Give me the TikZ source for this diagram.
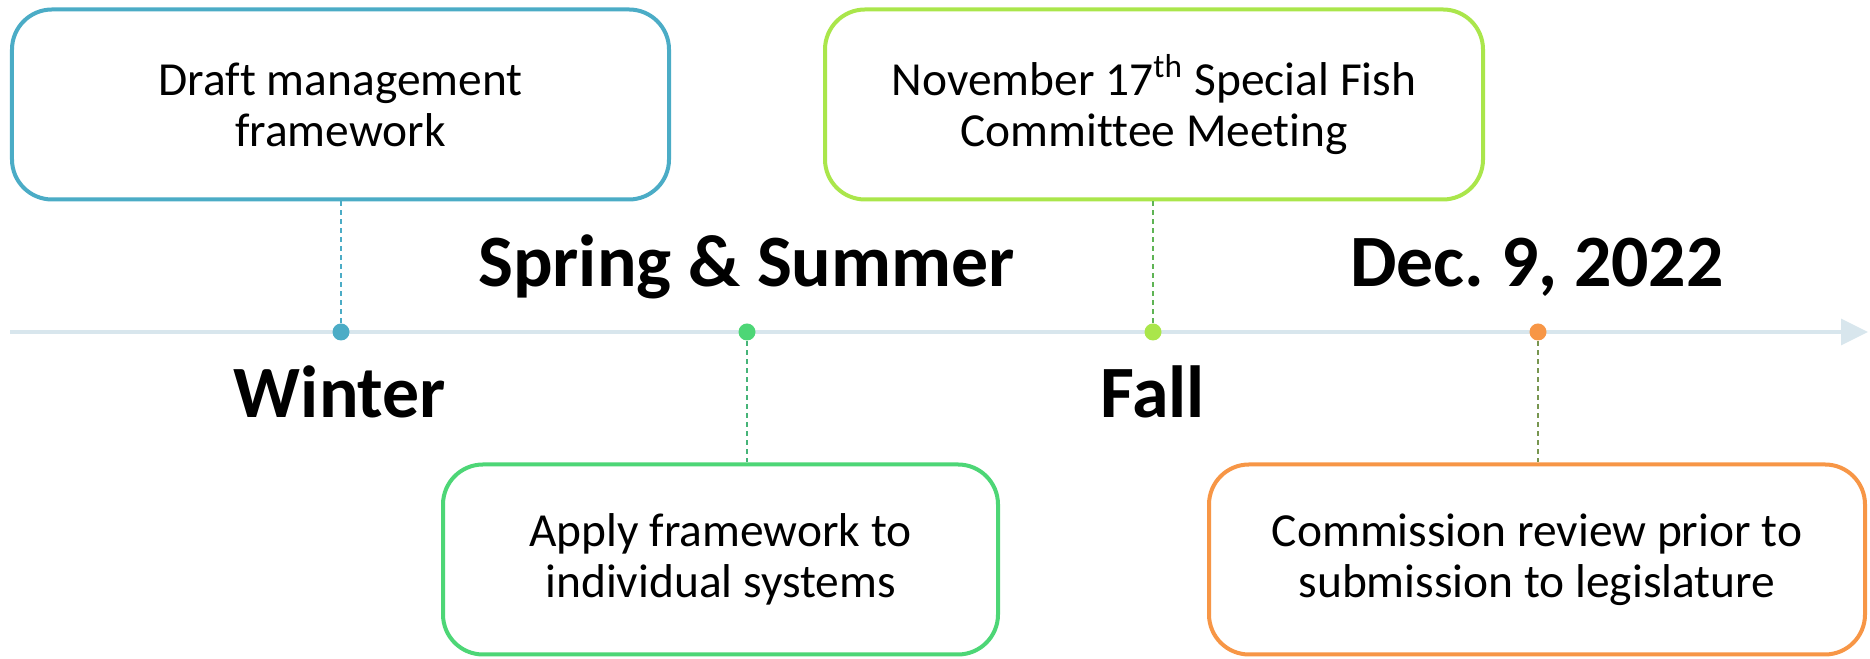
\documentclass[tikz,border=0pt]{standalone}
\usepackage{fontspec}
\setmainfont{Carlito}[Ligatures=NoCommon]
\usepackage{xcolor}
\usetikzlibrary{arrows.meta, positioning}

\definecolor{cBlue}{RGB}{75,172,198}
\definecolor{cLime}{RGB}{170,230,75}
\definecolor{cGreen}{RGB}{77,214,118}
\definecolor{cOrange}{RGB}{247,150,70}
\definecolor{cLine}{RGB}{216,230,237}
\definecolor{cOlive}{RGB}{120,150,80}
\definecolor{cDkLime}{RGB}{95,180,85}
\definecolor{cDkGreen}{RGB}{70,180,120}

\begin{document}
\begin{tikzpicture}[
  evbox/.style={draw, line width=0.04cm, rounded corners=0.4cm, fill=white,
    minimum height=1.9cm, align=center, font=\fontsize{13.5}{14.5}\selectfont},
  season/.style={anchor=base, font=\fontsize{21}{25}\selectfont\bfseries},
  dot/.style={circle, inner sep=0pt, minimum size=0.17cm},
  link/.style={line width=0.5pt, dash pattern=on 0.05cm off 0.04cm}
]
\useasboundingbox (0,0) rectangle (18.70,6.59);

% Timeline
\coordinate (tstart) at (0.10,3.27);
\coordinate (tend) at (18.68,3.27);
\draw[cLine, line width=0.033cm, -{Triangle[length=0.27cm, width=0.26cm]}] (tstart) -- (tend);

% Dots
\node[dot, fill=cBlue] (d1) at (3.41,3.27) {};
\node[dot, fill=cGreen] (d2) at (7.47,3.27) {};
\node[dot, fill=cLime] (d3) at (11.53,3.27) {};
\node[dot, fill=cOrange] (d4) at (15.38,3.27) {};

% Boxes
\node[evbox, draw=cBlue, minimum width=6.57cm] (b1) at (3.405,5.545) {Draft management\\framework};
\node[evbox, draw=cGreen, minimum width=5.55cm] (b2) at (7.205,0.995) {Apply framework to\\individual systems};
\node[evbox, draw=cLime, minimum width=6.58cm] (b3) at (11.54,5.545) {November 17\textsuperscript{th} Special Fish\\Committee Meeting};
\node[evbox, draw=cOrange, minimum width=6.56cm] (b4) at (15.37,0.995) {Commission review prior to\\submission to legislature};

% Dashed links
\draw[link, cBlue] (d1) -- (d1 |- b1.south);
\draw[link, cDkGreen] (d2) -- (d2 |- b2.north);
\draw[link, cDkLime] (d3) -- (d3 |- b3.south);
\draw[link, cOlive] (d4) -- (d4 |- b4.north);

% Seasons
\node[season] (winter) at (3.40,2.41) {Winter};
\node[season] (spring) at (7.465,3.72) {Spring \& Summer};
\node[season] (fall) at (11.525,2.41) {Fall};
\node[season] (dec) at (15.37,3.72) {Dec.\ 9, 2022};
\end{tikzpicture}
\end{document}
